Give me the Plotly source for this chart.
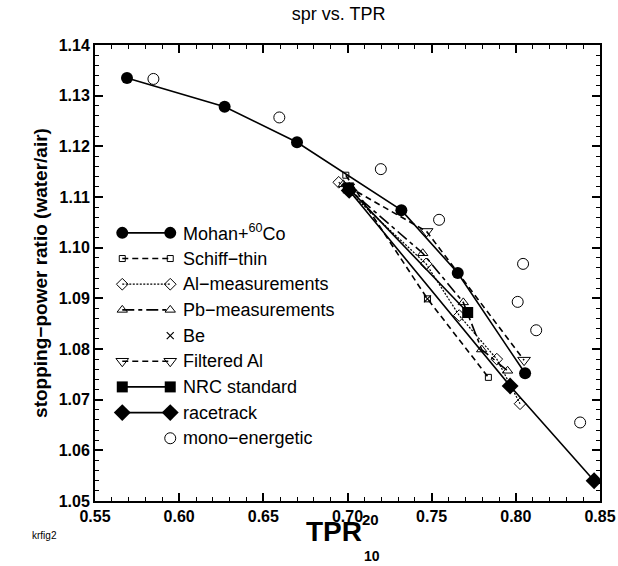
import plotly.graph_objects as go

# ---------------- data ----------------
mohan_x = [0.569, 0.627, 0.670, 0.732, 0.7655, 0.8055]
mohan_y = [1.1335, 1.1278, 1.1208, 1.1074, 1.0950, 1.0752]

schiff_x = [0.699, 0.7475, 0.7837]
schiff_y = [1.1143, 1.0899, 1.0744]

al_x = [0.6948, 0.7467, 0.7664, 0.7887, 0.8025]
al_y = [1.1129, 1.0968, 1.0866, 1.0780, 1.0692]

pb_x = [0.6975, 0.7447, 0.7688, 0.7797, 0.7951]
pb_y = [1.1125, 1.0989, 1.0892, 1.0799, 1.0757]

be_x = [0.7475]
be_y = [1.0899]

filt_x = [0.7005, 0.7470, 0.8049]
filt_y = [1.1120, 1.1032, 1.0778]

nrc_x = [0.7005, 0.7714]
nrc_y = [1.1118, 1.0872]

race_x = [0.7010, 0.7966, 0.8465]
race_y = [1.1113, 1.0727, 1.0540]

mono_x = [0.5847, 0.6595, 0.7198, 0.7544, 0.8043, 0.8011, 0.8121, 0.8382]
mono_y = [1.1333, 1.1257, 1.1155, 1.1055, 1.0968, 1.0893, 1.0837, 1.0655]

x_ticks = [0.55, 0.60, 0.65, 0.70, 0.75, 0.80, 0.85]
y_ticks = [1.05, 1.06, 1.07, 1.08, 1.09, 1.10, 1.11, 1.12, 1.13, 1.14]

# ---------------- styles ----------------
BLK = "black"
FONT = "Liberation Sans, Arial"
series = [
    dict(name="Mohan+<sup>60</sup>Co", x=mohan_x, y=mohan_y, mode="lines+markers",
         marker=dict(symbol="circle", size=12, color=BLK), line=dict(color=BLK, width=1.6, dash="solid")),
    dict(name="Schiff\u2212thin", x=schiff_x, y=schiff_y, mode="lines+markers",
         marker=dict(symbol="square-open", size=6, color=BLK, line=dict(width=1)), line=dict(color=BLK, width=1.6, dash="6px,4px")),
    dict(name="Al\u2212measurements", x=al_x, y=al_y, mode="lines+markers",
         marker=dict(symbol="diamond-open", size=9, color=BLK, line=dict(width=1)), line=dict(color=BLK, width=1.2, dash="2px,1.5px")),
    dict(name="Pb\u2212measurements", x=pb_x, y=pb_y, mode="lines+markers",
         marker=dict(symbol="triangle-up-open", size=9, color=BLK, line=dict(width=1)), line=dict(color=BLK, width=1.6, dash="12px,4px,4px,4px")),
    dict(name="Be", x=be_x, y=be_y, mode="markers",
         marker=dict(symbol="x-thin-open", size=7, color=BLK, line=dict(width=1.2, color=BLK))),
    dict(name="Filtered Al", x=filt_x, y=filt_y, mode="lines+markers",
         marker=dict(symbol="triangle-down-open", size=11, color=BLK, line=dict(width=1)), line=dict(color=BLK, width=1.6, dash="6px,4px")),
    dict(name="NRC standard", x=nrc_x, y=nrc_y, mode="lines+markers",
         marker=dict(symbol="square", size=11, color=BLK), line=dict(color=BLK, width=1.6, dash="solid")),
    dict(name="racetrack", x=race_x, y=race_y, mode="lines+markers",
         marker=dict(symbol="diamond", size=13, color=BLK), line=dict(color=BLK, width=1.6, dash="solid")),
    dict(name="mono\u2212energetic", x=mono_x, y=mono_y, mode="markers",
         marker=dict(symbol="circle-open", size=11, color=BLK, line=dict(width=1))),
]

fig = go.Figure()
for s in series:
    kw = dict(s)
    name = kw.pop("name")
    fig.add_trace(go.Scatter(showlegend=False, hoverinfo="skip", name=name, **kw))

# ---------------- custom legend on an overlay axis (0..1 units) ----------------
leg_x0, leg_x1, leg_text_x = 0.054, 0.149, 0.170
leg_top, leg_step = 0.588, 0.0563
for i, s in enumerate(series):
    yy = leg_top - i * leg_step
    m = dict(s["marker"])
    if s["mode"] == "lines+markers":
        fig.add_trace(go.Scatter(x=[leg_x0, leg_x1], y=[yy, yy], mode="lines+markers",
                                 marker=m, line=s["line"], xaxis="x2", yaxis="y2",
                                 showlegend=False, hoverinfo="skip"))
    else:
        fig.add_trace(go.Scatter(x=[leg_x1], y=[yy], mode="markers", marker=m,
                                 xaxis="x2", yaxis="y2", showlegend=False, hoverinfo="skip"))
    fig.add_annotation(x=leg_text_x, y=yy, xref="x2", yref="y2", text=s["name"],
                       showarrow=False, xanchor="left", yanchor="middle",
                       font=dict(family=FONT, size=18, color=BLK))

axis_common = dict(showgrid=False, zeroline=False, showline=True, linecolor=BLK, linewidth=2,
                   mirror="allticks", ticks="inside", ticklen=8, tickwidth=1.5, tickcolor=BLK,
                   automargin=False,
                   tickfont=dict(family=FONT, size=16, color=BLK))

fig.update_layout(
    width=618, height=566,
    margin=dict(l=95, r=18, t=45, b=65),
    paper_bgcolor="white", plot_bgcolor="white",
    title=dict(text="spr vs. TPR", x=0.548, xanchor="center", y=0.975, yanchor="middle",
               font=dict(family=FONT, size=18, color=BLK)),
    xaxis=dict(range=[0.55, 0.85], tickvals=x_ticks, ticktext=[f"<b>{v:.2f}</b>" for v in x_ticks],
               minor=dict(dtick=0.01, ticks="inside", ticklen=4, tickwidth=1.2, tickcolor=BLK),
               **axis_common),
    yaxis=dict(range=[1.05, 1.14], tickvals=y_ticks, ticktext=[f"<b>{v:.2f}</b>" for v in y_ticks],
               minor=dict(dtick=0.002, ticks="inside", ticklen=4, tickwidth=1.2, tickcolor=BLK),
               title=dict(text="<b>stopping\u2212power ratio (water/air)</b>", standoff=6,
                          font=dict(family=FONT, size=19, color=BLK)),
               **axis_common),
    xaxis2=dict(range=[0, 1], overlaying="x", visible=False),
    yaxis2=dict(range=[0, 1], overlaying="y", visible=False),
)

# x-axis title pieces (TPR with 20 above and 10 below, as in the reference)
fig.add_annotation(x=0.473, y=-0.066, xref="paper", yref="paper", text="<b>TPR</b>", showarrow=False,
                   xanchor="center", yanchor="middle", font=dict(family=FONT, size=28, color=BLK))
fig.add_annotation(x=0.5446, y=-0.040, xref="paper", yref="paper", text="<b>20</b>", showarrow=False,
                   xanchor="center", yanchor="middle", font=dict(family=FONT, size=15, color=BLK))
fig.add_annotation(x=0.549, y=-0.121, xref="paper", yref="paper", text="<b>10</b>", showarrow=False,
                   xanchor="center", yanchor="middle", font=dict(family=FONT, size=14, color=BLK))
fig.add_annotation(x=-0.1, y=-0.075, xref="paper", yref="paper", text="krfig2", showarrow=False,
                   xanchor="center", yanchor="middle", font=dict(family=FONT, size=10, color=BLK))

fig.write_html("out.html")
